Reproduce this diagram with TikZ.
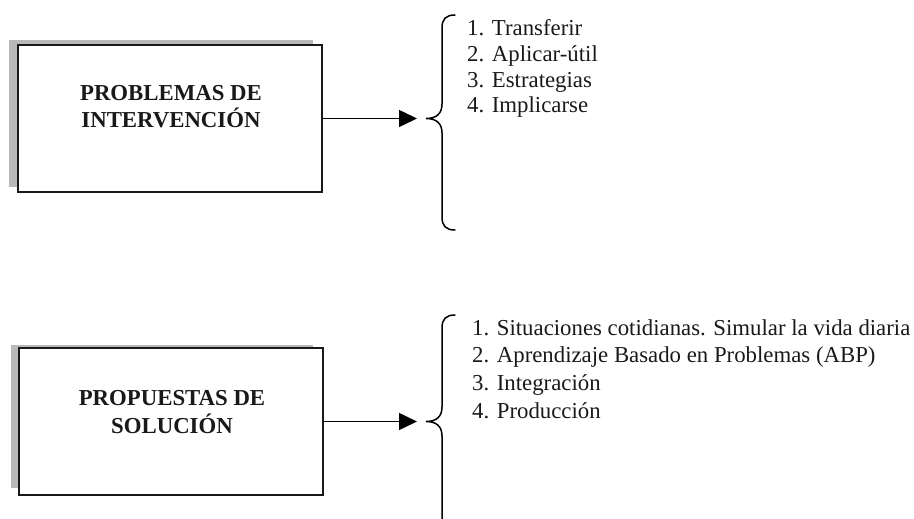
\documentclass[tikz,border=0pt]{standalone}
\usepackage{fontspec}
\setmainfont{Liberation Serif}
\usetikzlibrary{arrows.meta}
\begin{document}
\begin{tikzpicture}[x=1pt,y=-1pt,
  boxst/.style={draw=black!90,line width=1.8pt,fill=white,minimum width=304pt,minimum height=147pt,inner sep=0pt,outer sep=0pt},
  shadowst/.style={fill=gray!55},
  title/.style={font=\fontsize{22.8}{27}\selectfont\bfseries,anchor=base,inner sep=0pt,text=black!90},
  item/.style={font=\fontsize{22.8}{27}\selectfont,anchor=base west,inner sep=0pt,text=black!90},
  arr/.style={line width=1.5pt,-{Triangle[length=18pt,width=17pt]}},
  bracest/.style={line width=1.5pt,line cap=round}]
\useasboundingbox (0,0) rectangle (914,519);

% ---- top block ----
\fill[shadowst] (9,40) rectangle (313,187);
\node[boxst] (b1) at (170,118.5) {};
\node[title] (t1a) at (171,100) {PROBLEMAS DE};
\node[title] (t1b) at (171,128) {INTERVENCIÓN};
\coordinate (k1) at (426,118.5);
\draw[bracest] (455,15) .. controls (446,15) and (442,19) .. (442,28) -- (442,104)
  .. controls (442,114) and (436,118.5) .. (k1)
  .. controls (436,118.5) and (442,123) .. (442,133) -- (442,217)
  .. controls (442,226) and (446,230) .. (455,230);
\draw[arr,shorten >=9pt] (b1.east) -- (k1);
\node[item] (l11) at (467,36) {1. Transferir};
\node[item] (l12) at (467,61.7) {2. Aplicar-útil};
\node[item] (l13) at (467,87.4) {3. Estrategias};
\node[item] (l14) at (467,113) {4. Implicarse};

% ---- bottom block ----
\fill[shadowst] (11,345) rectangle (313,488);
\node[boxst] (b2) at (171,421.5) {};
\node[title] (t2a) at (172,405) {PROPUESTAS DE};
\node[title] (t2b) at (172,433) {SOLUCIÓN};
\coordinate (k2) at (426,421.5);
\draw[bracest] (455,315) .. controls (446,315) and (442,319) .. (442,328) -- (442,407)
  .. controls (442,417) and (436,421.5) .. (k2)
  .. controls (436,421.5) and (442,426) .. (442,436) -- (442,517)
  .. controls (442,526) and (446,530) .. (455,530);
\draw[arr,shorten >=9pt] (b2.east) -- (k2);
\node[item] (l21) at (472,335) {1. Situaciones cotidianas. Simular la vida diaria};
\node[item] (l22) at (472,362.7) {2. Aprendizaje Basado en Problemas (ABP)};
\node[item] (l23) at (472,390.4) {3. Integración};
\node[item] (l24) at (472,418) {4. Producción};
\end{tikzpicture}
\end{document}
